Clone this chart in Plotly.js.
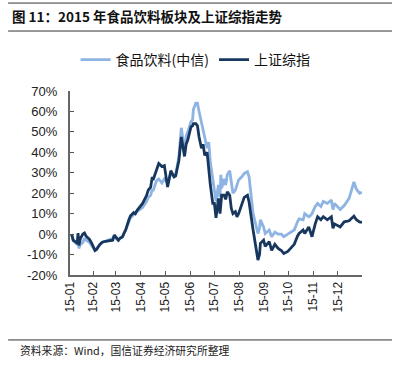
<!DOCTYPE html>
<html>
<head>
<meta charset="utf-8">
<script src="https://cdn.plot.ly/plotly-3.0.1.min.js"></script>
<style>
html,body{margin:0;padding:0;background:#fff;}
#chart{width:404px;height:371px;}
</style>
</head>
<body>
<div id="chart"></div>
<script>
// Dates of the sampled trading days (2015)
const dates = [
 '2015-01-05','2015-01-07','2015-01-09','2015-01-12','2015-01-13','2015-01-14','2015-01-16','2015-01-19','2015-01-21','2015-01-23','2015-01-27','2015-01-30',
 '2015-02-03','2015-02-05','2015-02-09','2015-02-12','2015-02-16','2015-02-25','2015-02-27',
 '2015-03-02','2015-03-04','2015-03-06','2015-03-09','2015-03-11','2015-03-13','2015-03-17','2015-03-19','2015-03-23','2015-03-25','2015-03-27','2015-03-31',
 '2015-04-03','2015-04-08','2015-04-10','2015-04-13','2015-04-15','2015-04-16','2015-04-20','2015-04-23','2015-04-27','2015-04-30',
 '2015-05-04','2015-05-06','2015-05-08','2015-05-12','2015-05-14','2015-05-18','2015-05-20','2015-05-21','2015-05-25','2015-05-27','2015-05-29',
 '2015-06-02','2015-06-04','2015-06-05','2015-06-08','2015-06-10','2015-06-12','2015-06-15','2015-06-17','2015-06-19','2015-06-22','2015-06-24','2015-06-26','2015-06-29',
 '2015-07-01','2015-07-03','2015-07-06','2015-07-08','2015-07-09','2015-07-10','2015-07-13','2015-07-15','2015-07-17','2015-07-20','2015-07-22','2015-07-24','2015-07-27','2015-07-29','2015-07-31',
 '2015-08-04','2015-08-07','2015-08-11','2015-08-13','2015-08-18','2015-08-24','2015-08-26','2015-08-27','2015-08-31',
 '2015-09-02','2015-09-07','2015-09-10','2015-09-14','2015-09-18','2015-09-22','2015-09-25','2015-09-30',
 '2015-10-08','2015-10-12','2015-10-14','2015-10-19','2015-10-21','2015-10-26','2015-10-28','2015-10-30',
 '2015-11-03','2015-11-06','2015-11-10','2015-11-13','2015-11-18','2015-11-23','2015-11-25','2015-11-27',
 '2015-12-04','2015-12-09','2015-12-15','2015-12-21','2015-12-24','2015-12-28','2015-12-31'
];
// 食品饮料(中信), cumulative change %
const foodBev = [
 0,-3,-4,-5,-1,-7,-5,-4,-2,-3,-4,-6,
 -8,-7,-5,-4,-3.5,-2,-0.5,
 -2.5,-3,-2,-1.5,0,2,6,8,9.5,10,11,12,
 13,16,18,19,22,21,26,27,25,27,
 25,27,30,28,29,38,51,52,40,48,50,
 55,56,61,64,64,60,55,51.5,48,42,45,35,27,
 21,16,24,18,29,22.5,27,24,29,31,25.5,20,21.5,24,26.5,
 28,29.7,30.5,28,10,0.3,3,7,3.5,
 0.3,2,-1.3,1,0,0,-1.3,0,
 2,6,7.5,7,10,8.5,9,10,
 13.5,15,13.5,16,15,16.7,12,15,
 12,14,17.5,25.5,22,20,20.5
];
// 上证综指, cumulative change %
const shIndex = [
 0,-3,-3.5,-4.5,0.5,-5.5,-2,0,0.5,-1,-2.5,-4.5,
 -8,-7.5,-5,-4,-3.5,-3,-0.5,
 -2,-3,-2,-1.3,0.5,2,7,9,10.5,10,11.5,13.5,
 15,19,21.5,23,28,26.5,31,34.5,33,33.5,
 23,28,31,28,28.5,36,43,47.5,38,44,46,
 52.5,53,54,54,53,47.5,42,44,38.5,40,30.5,24,15,
 15,8,17.5,10,14,19,19,17,20.7,19,12.5,10,11,8.5,10,
 14,18,19,15.7,2,-12.7,-10,-4.5,-3,
 -6,-3.7,-8,-5,-7,-8,-9.5,-8.5,
 -5,-1,0.3,2,0.3,3.5,1,-1.3,
 5,8.5,7,8.5,7,8.5,2.8,5,
 3.5,6,6.5,8.8,7,6,5.7
];
const tickDates = ['2015-01-03','2015-02-01','2015-03-01','2015-04-01','2015-05-01','2015-06-01','2015-07-01','2015-08-01','2015-09-01','2015-10-01','2015-11-01','2015-12-01'];
const tickText = ['15-01','15-02','15-03','15-04','15-05','15-06','15-07','15-08','15-09','15-10','15-11','15-12'];
const yTicks = [-20,-10,0,10,20,30,40,50,60,70];
const yText = yTicks.map(v => v + '%');

const traces = [
 {x: dates, y: foodBev, type: 'scatter', mode: 'lines', name: '食品饮料(中信)',
  line: {color: '#8DB4E2', width: 2.8}},
 {x: dates, y: shIndex, type: 'scatter', mode: 'lines', name: '上证综指',
  line: {color: '#17375E', width: 2.8}}
];

const cjk = '"Noto Sans CJK SC", "Liberation Sans", Arial, sans-serif';
const layout = {
 width: 404, height: 371,
 margin: {l: 70, r: 42, t: 91, b: 96},
 paper_bgcolor: '#fff', plot_bgcolor: '#fff',
 showlegend: true,
 legend: {orientation: 'h', x: 0.43, xanchor: 'center', y: 1.168, yanchor: 'middle',
  font: {family: cjk, size: 14, color: '#111'}, itemwidth: 30, tracegroupgap: 0},
 xaxis: {type: 'date', range: ['2015-01-03', '2015-12-31'],
  tickmode: 'array', tickvals: tickDates, ticktext: tickText, tickangle: -90,
  ticks: 'inside', ticklen: 4, tickwidth: 1, tickcolor: '#555',
  showline: true, linecolor: '#666', linewidth: 2, showgrid: false, zeroline: false,
  tickfont: {family: '"Liberation Sans", Arial, sans-serif', size: 12, color: '#222'}},
 yaxis: {range: [-20, 70], tickmode: 'array', tickvals: yTicks, ticktext: yText,
  ticks: 'inside', ticklen: 4, tickwidth: 1, tickcolor: '#555',
  showline: true, linecolor: '#666', linewidth: 2, showgrid: false, zeroline: false,
  ticklabelstandoff: 8,
  tickfont: {family: '"Liberation Sans", Arial, sans-serif', size: 13, color: '#222'}},
 shapes: [
  {type: 'line', xref: 'paper', yref: 'paper', x0: -0.212, x1: 1.103, y0: 1.478, y1: 1.478, line: {color: '#333', width: 1}},
  {type: 'line', xref: 'paper', yref: 'paper', x0: -0.212, x1: 1.103, y0: 1.326, y1: 1.326, line: {color: '#333', width: 1}},
  {type: 'line', xref: 'paper', yref: 'paper', x0: -0.212, x1: 1.103, y0: -0.353, y1: -0.353, line: {color: '#333', width: 1}}
 ],
 annotations: [
  {text: '<b>图 11：2015 年食品饮料板块及上证综指走势</b>', xref: 'paper', yref: 'paper',
   x: -0.2055, xanchor: 'left', y: 1.4076, yanchor: 'middle', showarrow: false,
   font: {family: cjk, size: 13.5, color: '#111'}},
  {text: '资料来源：Wind，国信证券经济研究所整理', xref: 'paper', yref: 'paper',
   x: -0.178, xanchor: 'left', y: -0.4076, yanchor: 'middle', showarrow: false,
   font: {family: cjk, size: 10.8, color: '#222'}}
 ]
};
Plotly.newPlot('chart', traces, layout, {staticPlot: true, displayModeBar: false});
</script>
</body>
</html>
